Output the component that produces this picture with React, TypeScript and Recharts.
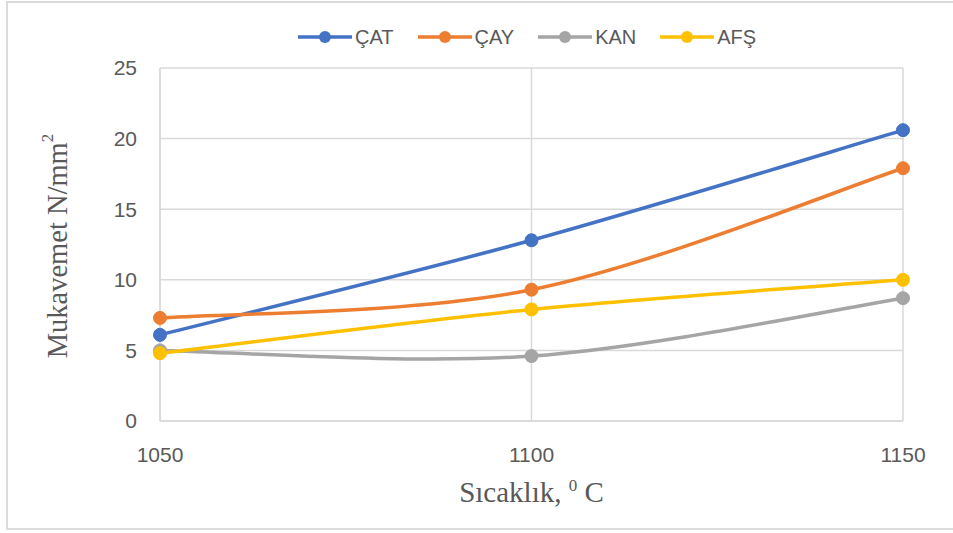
import React from "react";
import { LineChart, Line, XAxis, YAxis, CartesianGrid, Legend, Label } from "recharts";

const temperatures = [1050, 1100, 1150];
const catValues = [6.1, 12.8, 20.6];
const cayValues = [7.3, 9.3, 17.9];
const kanValues = [5.0, 4.6, 8.7];
const afsValues = [4.8, 7.9, 10.0];
const yTicks = [0, 5, 10, 15, 20, 25];

const seriesDefs = [
  { key: "ÇAT", values: catValues, color: "#4472C4" },
  { key: "ÇAY", values: cayValues, color: "#ED7D31" },
  { key: "KAN", values: kanValues, color: "#A5A5A5" },
  { key: "AFŞ", values: afsValues, color: "#FFC000" },
];

const data = temperatures.map((t, i) => {
  const row: any = { t };
  seriesDefs.forEach((s) => (row[s.key] = s.values[i]));
  return row;
});

// Excel-like smoothed line (Catmull-Rom style bezier)
const excelCurve: any = (context: any) => {
  let pts: [number, number][] = [];
  return {
    areaStart() {},
    areaEnd() {},
    lineStart() {
      pts = [];
    },
    lineEnd() {
      if (!pts.length) return;
      context.moveTo(pts[0][0], pts[0][1]);
      for (let i = 0; i < pts.length - 1; i++) {
        const p0 = pts[i - 1] || pts[i];
        const p1 = pts[i];
        const p2 = pts[i + 1];
        const p3 = pts[i + 2] || pts[i + 1];
        const c1x = p1[0] + (p2[0] - p0[0]) / 6;
        const c1y = p1[1] + (p2[1] - p0[1]) / 6;
        const c2x = p2[0] - (p3[0] - p1[0]) / 6;
        const c2y = p2[1] - (p3[1] - p1[1]) / 6;
        context.bezierCurveTo(c1x, c1y, c2x, c2y, p2[0], p2[1]);
      }
    },
    point(x: number, y: number) {
      pts.push([x, y]);
    },
  };
};

const textColor = "#595959";
const sansFont = "'Liberation Sans', Arial, sans-serif";
const serifFont = "'Liberation Serif', 'Times New Roman', serif";

const LegendContent = () => (
  <div style={{ display: "flex", alignItems: "center", gap: 23 }}>
    {seriesDefs.map((s) => (
      <div key={s.key} style={{ display: "flex", alignItems: "center" }}>
        <svg width={56} height={16} style={{ display: "block" }}>
          <line x1={1} y1={8} x2={55} y2={8} stroke={s.color} strokeWidth={3.5} />
          <circle cx={28} cy={8} r={6} fill={s.color} />
        </svg>
        <span
          style={{
            fontFamily: sansFont,
            fontSize: 20,
            color: textColor,
            marginLeft: 2,
            lineHeight: "20px",
          }}
        >
          {s.key}
        </span>
      </div>
    ))}
  </div>
);

const XTitle = (props: any) => {
  const vb = props.viewBox || { x: 160, y: 421, width: 743, height: 30 };
  const cx = vb.x + vb.width / 2;
  return (
    <text x={cx} y={502} textAnchor="middle" fontFamily={serifFont} fontSize={29} fill={textColor}>
      Sıcaklık,{" "}
      <tspan dy={-11} fontSize={17}>
        0
      </tspan>
      <tspan dy={11}> C</tspan>
    </text>
  );
};

const YTitle = () => {
  const cx = 57;
  const cy = 246;
  return (
    <text
      x={cx}
      y={cy}
      transform={`rotate(-90 ${cx} ${cy})`}
      textAnchor="middle"
      dominantBaseline="central"
      fontFamily={serifFont}
      fontSize={28.5}
      fill={textColor}
    >
      Mukavemet N/mm
      <tspan dy={-10} fontSize={17}>
        2
      </tspan>
    </text>
  );
};

export default function App() {
  return (
    <div style={{ position: "absolute", left: 0, top: 0, width: 953, height: 533, background: "#fff", overflow: "hidden" }}>
      <div
        style={{
          position: "absolute",
          left: 6,
          top: 1,
          width: 960,
          height: 529,
          border: "2px solid #dcdcdc",
          boxSizing: "border-box",
        }}
      />
      <LineChart
        width={953}
        height={533}
        data={data}
        margin={{ top: 68, right: 50, bottom: 82, left: 100 }}
        style={{ position: "absolute", left: 0, top: 0 }}
      >
        <CartesianGrid stroke="#d9d9d9" strokeWidth={1.5} />
        <XAxis
          dataKey="t"
          type="number"
          domain={[1050, 1150]}
          ticks={temperatures}
          height={30}
          tickLine={false}
          axisLine={{ stroke: "#d9d9d9", strokeWidth: 1.5 }}
          tickMargin={20}
          tick={{ fill: textColor, fontSize: 21, fontFamily: sansFont }}
        >
          <Label content={<XTitle />} />
        </XAxis>
        <YAxis
          domain={[0, 25]}
          ticks={yTicks}
          width={60}
          tickLine={false}
          axisLine={{ stroke: "#d9d9d9", strokeWidth: 1.5 }}
          tickMargin={17}
          tick={{ fill: textColor, fontSize: 21, fontFamily: sansFont }}
        >
          <Label content={<YTitle />} />
        </YAxis>
        <Legend
          verticalAlign="middle"
          align="center"
          content={<LegendContent />}
          wrapperStyle={{ top: 27, left: 297, width: "auto", height: "auto" }}
        />
        {seriesDefs.map((s) => (
          <Line
            key={s.key}
            dataKey={s.key}
            type={excelCurve}
            stroke={s.color}
            strokeWidth={3.5}
            dot={{ r: 6.5, fill: s.color, stroke: s.color, strokeWidth: 1 }}
            activeDot={false}
            isAnimationActive={false}
          />
        ))}
      </LineChart>
    </div>
  );
}
